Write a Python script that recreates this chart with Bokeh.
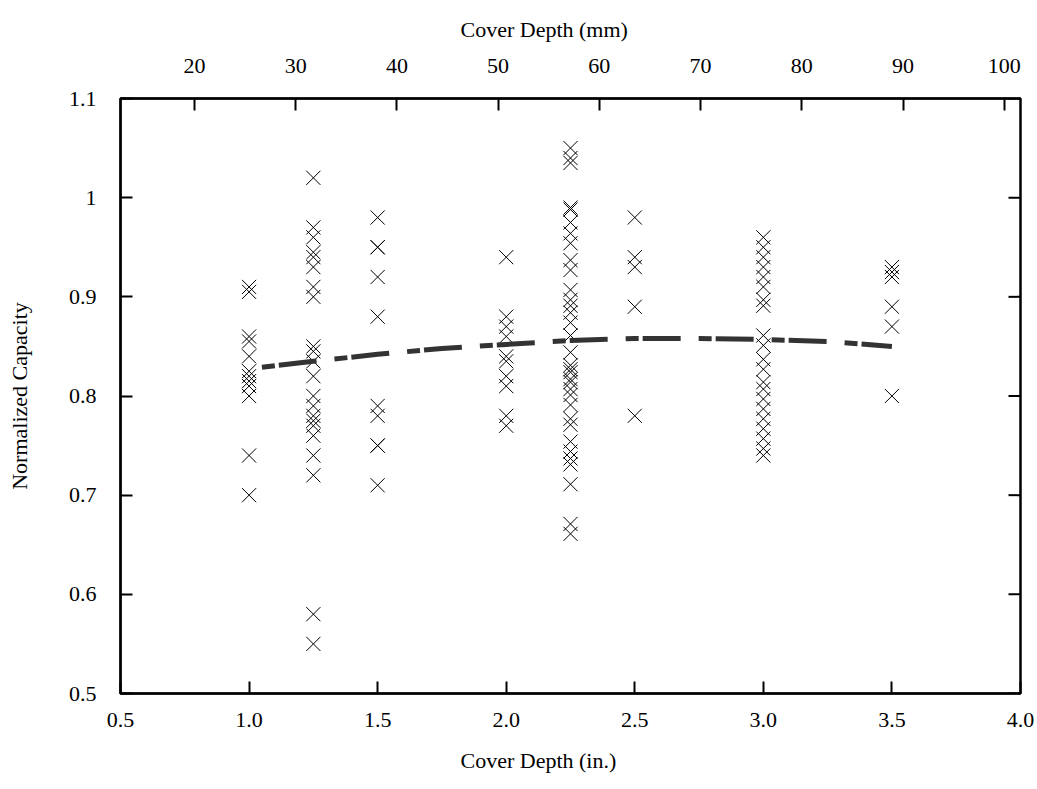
from bokeh.plotting import figure
from bokeh.models import Range1d, LinearAxis, FixedTicker, PrintfTickFormatter, Title
from bokeh.embed import file_html
from bokeh.resources import INLINE

# Data: cover depth (in.) and normalized capacity
x_10 = [1.0] * 12
y_10 = [0.91, 0.905, 0.86, 0.855, 0.84, 0.825, 0.82, 0.815, 0.81, 0.80, 0.74, 0.70]
x_125 = [1.25] * 22
y_125 = [1.02, 0.97, 0.96, 0.945, 0.94, 0.93, 0.91, 0.90, 0.85, 0.845, 0.835, 0.82,
         0.80, 0.79, 0.78, 0.775, 0.77, 0.76, 0.74, 0.72, 0.58, 0.55]
x_15 = [1.5] * 10
y_15 = [0.98, 0.95, 0.95, 0.92, 0.88, 0.79, 0.78, 0.75, 0.75, 0.71]
x_20 = [2.0] * 10
y_20 = [0.94, 0.88, 0.87, 0.86, 0.84, 0.835, 0.82, 0.81, 0.78, 0.77]
x_225 = [2.25] * 34
y_225 = [1.05, 1.04, 1.035, 0.99, 0.988, 0.975, 0.964, 0.954, 0.937, 0.927, 0.907,
         0.897, 0.891, 0.884, 0.874, 0.861, 0.844, 0.831, 0.827, 0.824, 0.814, 0.807,
         0.801, 0.791, 0.777, 0.771, 0.754, 0.744, 0.737, 0.731, 0.711, 0.671, 0.661, 0.817]
x_25 = [2.5] * 5
y_25 = [0.98, 0.94, 0.93, 0.89, 0.78]
x_30 = [3.0] * 21
y_30 = [0.96, 0.95, 0.94, 0.93, 0.92, 0.91, 0.897, 0.891, 0.861, 0.851, 0.837, 0.827,
        0.814, 0.807, 0.797, 0.787, 0.777, 0.767, 0.757, 0.747, 0.74]
x_35 = [3.5] * 6
y_35 = [0.93, 0.925, 0.92, 0.89, 0.87, 0.80]

trend_x = [1.05, 1.25, 1.5, 1.75, 2.0, 2.25, 2.5, 2.75, 3.0, 3.25, 3.5]
trend_y = [0.829, 0.835, 0.842, 0.848, 0.852, 0.856, 0.858, 0.858, 0.857, 0.855, 0.850]

x_ticks = [0.5, 1.0, 1.5, 2.0, 2.5, 3.0, 3.5, 4.0]
y_ticks = [0.5, 0.6, 0.7, 0.8, 0.9, 1.0, 1.1]
mm_ticks = [20, 30, 40, 50, 60, 70, 80, 90, 100]

x_title_bottom = "Cover Depth (in.)"
x_title_top = "Cover Depth (mm)"
y_title = "Normalized Capacity"

xs = x_10 + x_125 + x_15 + x_20 + x_225 + x_25 + x_30 + x_35
ys = y_10 + y_125 + y_15 + y_20 + y_225 + y_25 + y_30 + y_35

FONT = "Liberation Serif"
X_MIN, X_MAX = 0.5, 4.0
Y_MIN, Y_MAX = 0.5, 1.1
W, H = 1037, 789
BL, BR, BT, BB = 120, 17, 95, 96
PW = W - BL - BR

p = figure(width=W, height=H, output_backend="svg", toolbar_location=None,
           x_range=Range1d(X_MIN, X_MAX), y_range=Range1d(Y_MIN, Y_MAX),
           min_border_left=BL, min_border_right=BR, min_border_top=BT, min_border_bottom=BB,
           x_axis_location=None, y_axis_location=None)
p.extra_x_ranges = {"mm": Range1d(X_MIN * 25.4, X_MAX * 25.4)}

p.xgrid.visible = False
p.ygrid.visible = False
p.outline_line_color = "black"
p.outline_line_width = 2.5
p.background_fill_color = "white"
p.border_fill_color = "white"


def style(ax):
    ax.major_tick_in = 12
    ax.major_tick_out = 0
    ax.minor_tick_in = 0
    ax.minor_tick_out = 0
    ax.major_tick_line_width = 2
    ax.axis_line_width = 2
    ax.major_label_text_font = FONT
    ax.major_label_text_font_size = "22px"
    ax.major_label_text_color = "black"
    ax.axis_label_text_font = FONT
    ax.axis_label_text_font_size = "22px"
    ax.axis_label_text_font_style = "normal"
    ax.axis_label_text_color = "black"


def axis_title(txt, standoff):
    return Title(text=txt, align="left", offset=340, standoff=standoff,
                 text_font=FONT, text_font_size="22px", text_font_style="normal",
                 text_color="black")


bottom = LinearAxis(ticker=FixedTicker(ticks=x_ticks),
                    formatter=PrintfTickFormatter(format="%.1f"))
style(bottom)
bottom.major_label_standoff = 19
p.add_layout(bottom, "below")
p.add_layout(axis_title(x_title_bottom, 33), "below")

left = LinearAxis(ticker=FixedTicker(ticks=y_ticks),
                  formatter=PrintfTickFormatter(format="%g"),
                  axis_label=y_title)
style(left)
left.major_label_standoff = 24
left.axis_label_standoff = 34
p.add_layout(left, "left")

top = LinearAxis(x_range_name="mm", ticker=FixedTicker(ticks=mm_ticks))
style(top)
top.major_label_standoff = 26
p.add_layout(top, "above")
p.add_layout(axis_title(x_title_top, 28), "above")

# right-hand inward ticks (no labels), drawn as short segments from the frame edge
tick_len = 12 * (X_MAX - X_MIN) / PW
p.segment(x0=[X_MAX] * len(y_ticks), y0=y_ticks,
          x1=[X_MAX - tick_len] * len(y_ticks), y1=y_ticks,
          line_color="black", line_width=2)

p.scatter(xs, ys, marker="x", size=20, line_color="black", line_width=1)
p.line(trend_x, trend_y, line_color="#333333", line_width=5, line_dash="13 4 38 18")

open("out.html", "w").write(file_html(p, INLINE))
